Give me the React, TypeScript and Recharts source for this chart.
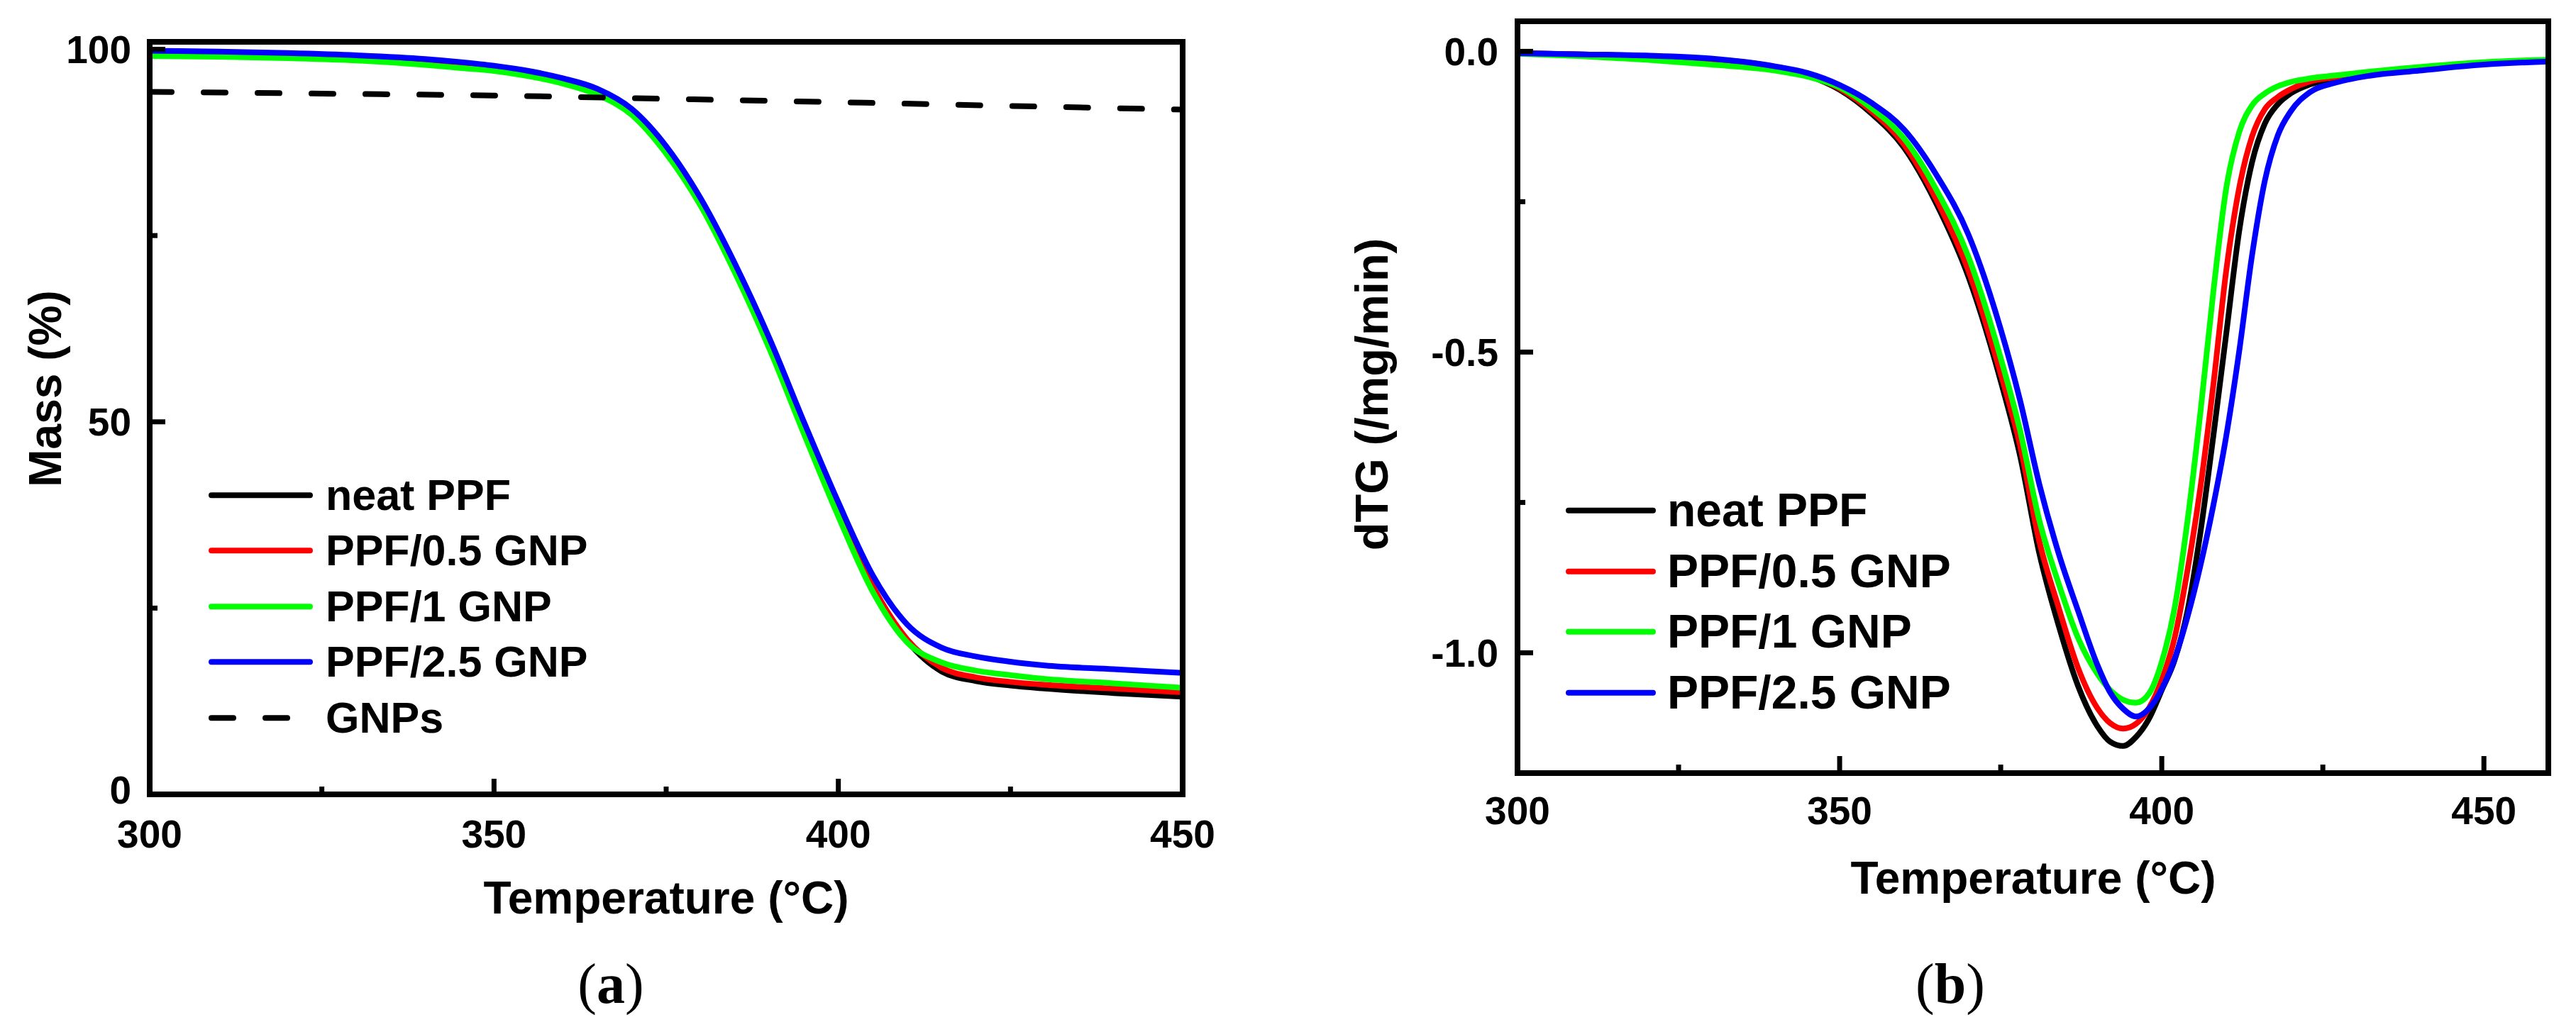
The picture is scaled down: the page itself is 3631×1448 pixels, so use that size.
import React from 'react';
import { LineChart, Line, XAxis, YAxis, Legend } from 'recharts';

const SANS = "'Liberation Sans', Arial, Helvetica, sans-serif";
const SERIF = "'Liberation Serif', 'Times New Roman', Times, serif";

// ---------- (a) TG data ----------
const tgTemperature = [300, 310, 320, 330, 340, 345, 350, 355, 360, 365, 370, 375, 380, 385, 390, 395, 400, 405, 410, 415, 420, 425, 430, 440, 450];
const tgNeat = [99.5, 99.4, 99.2, 98.9, 98.4, 98.0, 97.5, 96.8, 95.8, 94.3, 91.6, 86.4, 79.4, 70.4, 60.2, 48.8, 37.9, 27.9, 20.6, 16.5, 15.2, 14.6, 14.2, 13.6, 13.1];
const tgHalf = [99.6, 99.5, 99.3, 99.0, 98.5, 98.1, 97.6, 96.9, 95.9, 94.4, 91.7, 86.5, 79.5, 70.5, 60.3, 48.9, 37.9, 27.9, 20.8, 17.0, 15.7, 15.1, 14.7, 14.2, 13.7];
const tgOne = [99.1, 99.0, 98.8, 98.5, 97.9, 97.5, 97.1, 96.4, 95.4, 93.9, 91.2, 86.0, 79.0, 70.0, 59.8, 48.4, 37.3, 27.2, 20.4, 17.7, 16.6, 16.0, 15.5, 14.9, 14.3];
const tgTwoHalf = [99.8, 99.7, 99.5, 99.2, 98.7, 98.3, 97.8, 97.1, 96.1, 94.7, 92.0, 87.0, 80.0, 71.2, 61.2, 50.0, 39.2, 29.4, 22.8, 19.7, 18.5, 17.8, 17.3, 16.8, 16.3];
const gnpTemperature = [300, 325, 350, 375, 400, 425, 450];
const gnpMass = [94.3, 94.05, 93.8, 93.35, 92.9, 92.4, 91.9];

const tgXTicks = [300, 325, 350, 375, 400, 425, 450];
const tgXLabels = [300, 350, 400, 450];
const tgYTicks = [0, 25, 50, 75, 100];
const tgYLabels = [0, 50, 100];

// ---------- (b) dTG data ----------
const dtgTemperature = [300, 310, 320, 330, 340, 345, 350, 355, 360, 365, 370, 375, 378, 381, 384, 387, 390, 392, 394, 396, 398, 400, 402, 404, 406, 408, 410, 412, 414, 416, 418, 420, 423, 427, 432, 440, 450, 460];
const dtgNeat = [-0.003, -0.005, -0.008, -0.013, -0.026, -0.040, -0.064, -0.104, -0.160, -0.253, -0.375, -0.548, -0.672, -0.835, -0.955, -1.055, -1.122, -1.148, -1.155, -1.140, -1.110, -1.062, -1.012, -0.930, -0.800, -0.640, -0.470, -0.300, -0.185, -0.120, -0.088, -0.070, -0.055, -0.045, -0.037, -0.028, -0.020, -0.015];
const dtgHalf = [-0.003, -0.005, -0.008, -0.013, -0.026, -0.040, -0.062, -0.100, -0.155, -0.246, -0.365, -0.536, -0.655, -0.815, -0.925, -1.025, -1.092, -1.117, -1.126, -1.118, -1.092, -1.045, -0.975, -0.862, -0.725, -0.555, -0.365, -0.228, -0.142, -0.096, -0.076, -0.063, -0.050, -0.043, -0.036, -0.027, -0.019, -0.015];
const dtgOne = [-0.004, -0.008, -0.014, -0.022, -0.032, -0.042, -0.060, -0.095, -0.145, -0.230, -0.342, -0.510, -0.630, -0.780, -0.885, -0.975, -1.035, -1.062, -1.078, -1.083, -1.068, -1.015, -0.925, -0.780, -0.600, -0.400, -0.228, -0.135, -0.090, -0.070, -0.058, -0.051, -0.045, -0.040, -0.034, -0.026, -0.018, -0.014];
const dtgTwoHalf = [-0.003, -0.005, -0.007, -0.012, -0.025, -0.036, -0.056, -0.086, -0.130, -0.205, -0.305, -0.462, -0.580, -0.720, -0.835, -0.930, -1.020, -1.066, -1.093, -1.106, -1.093, -1.060, -1.010, -0.940, -0.855, -0.755, -0.640, -0.500, -0.340, -0.215, -0.140, -0.100, -0.068, -0.052, -0.041, -0.032, -0.022, -0.017];

const dtgXTicks = [300, 325, 350, 375, 400, 425, 450];
const dtgXLabels = [300, 350, 400, 450];
const dtgYTicks = [-1, -0.75, -0.5, -0.25, 0];
const dtgYLabels = [-1, -0.5, 0];

// ---------- series ----------
const seriesNames = ['neat PPF', 'PPF/0.5 GNP', 'PPF/1 GNP', 'PPF/2.5 GNP', 'GNPs'];
const seriesColors = ['#000000', '#ff0000', '#00ff00', '#0000ff', '#000000'];
const GNP_DASH = '31 45';

const tgRows = tgTemperature.map((t, i) => ({
  t,
  neat: tgNeat[i],
  half: tgHalf[i],
  one: tgOne[i],
  twoHalf: tgTwoHalf[i],
}));
const gnpRows = gnpTemperature.map((t, i) => ({ t, gnp: gnpMass[i] }));
const dtgRows = dtgTemperature.map((t, i) => ({
  t,
  neat: dtgNeat[i],
  half: dtgHalf[i],
  one: dtgOne[i],
  twoHalf: dtgTwoHalf[i],
}));

const AXIS_W = 8;
const TICK_W = 7;

function makeXTick(labels: number[], majorLen: number, minorLen: number, labelCy: number, fs: number) {
  return (props: any) => {
    const { x, y, payload } = props;
    const v = payload.value;
    const major = labels.includes(v);
    return (
      <g>
        <line x1={x} y1={y} x2={x} y2={y - (major ? majorLen : minorLen)} stroke="#000" strokeWidth={TICK_W} />
        {major && (
          <text x={x} y={labelCy} dy="0.358em" textAnchor="middle" fontFamily={SANS} fontWeight="bold" fontSize={fs} fill="#000">
            {String(v)}
          </text>
        )}
      </g>
    );
  };
}

function makeYTick(
  labels: number[],
  majorLen: number,
  minorLen: number,
  labelRight: number,
  fs: number,
  fmt: (v: number) => string,
  bottomShift: number
) {
  return (props: any) => {
    const { x, y, payload, index } = props;
    const v = payload.value;
    const major = labels.some((l) => Math.abs(l - v) < 1e-9);
    const ly = index === 0 ? y - bottomShift : y;
    return (
      <g>
        <line x1={x} y1={y} x2={x + (major ? majorLen : minorLen)} y2={y} stroke="#000" strokeWidth={TICK_W} />
        {major && (
          <text x={labelRight} y={ly} dy="0.358em" textAnchor="end" fontFamily={SANS} fontWeight="bold" fontSize={fs} fill="#000">
            {fmt(v)}
          </text>
        )}
      </g>
    );
  };
}

function makeLegend(sampleW: number, rowH: number, gap: number, fs: number) {
  return (props: any) => {
    const items = [...(props.payload || [])].sort(
      (a: any, b: any) => seriesNames.indexOf(a.value) - seriesNames.indexOf(b.value)
    );
    return (
      <div style={{ display: 'flex', flexDirection: 'column' }}>
        {items.map((it: any) => {
          const dashed = it.value === 'GNPs';
          return (
            <div key={it.value} style={{ height: rowH, display: 'flex', alignItems: 'center' }}>
              <svg width={sampleW} height={rowH} style={{ display: 'block', flex: 'none' }}>
                <line
                  x1={4}
                  x2={sampleW - 4}
                  y1={rowH / 2}
                  y2={rowH / 2}
                  stroke={it.color}
                  strokeWidth={8}
                  strokeLinecap="round"
                  strokeDasharray={dashed ? GNP_DASH : undefined}
                />
              </svg>
              <span
                style={{
                  marginLeft: gap,
                  fontFamily: SANS,
                  fontWeight: 'bold',
                  fontSize: fs,
                  lineHeight: `${rowH}px`,
                  whiteSpace: 'nowrap',
                  color: '#000',
                }}
              >
                {it.value}
              </span>
            </div>
          );
        })}
      </div>
    );
  };
}

const frameLine = { stroke: '#000', strokeWidth: AXIS_W, strokeLinecap: 'square' as const };

function TGChart() {
  return (
    <LineChart width={1720} height={1448} data={tgRows} margin={{ top: 58, right: 52, bottom: 288, left: 0 }}>
      <XAxis
        dataKey="t"
        type="number"
        domain={[300, 450]}
        ticks={tgXTicks}
        interval={0}
        height={40}
        tickSize={0}
        tickMargin={0}
        tickLine={false}
        axisLine={frameLine}
        tick={makeXTick(tgXLabels, 22, 11, 1175, 55)}
      />
      <XAxis xAxisId="top" orientation="top" dataKey="t" type="number" domain={[300, 450]} height={1} tick={false} tickLine={false} axisLine={frameLine} />
      <YAxis
        type="number"
        domain={[0, 101]}
        ticks={tgYTicks}
        interval={0}
        width={211}
        tickSize={0}
        tickMargin={0}
        tickLine={false}
        axisLine={frameLine}
        tick={makeYTick(tgYLabels, 22, 11, 185, 55, (v) => String(v), 7)}
      />
      <YAxis yAxisId="right" orientation="right" type="number" domain={[0, 101]} width={1} tick={false} tickLine={false} axisLine={frameLine} />
      <Legend
        layout="vertical"
        align="center"
        verticalAlign="middle"
        wrapperStyle={{ left: 294, top: 658.75, width: 700, height: 'auto' }}
        content={makeLegend(147, 78.5, 18, 61)}
      />
      <Line type="monotone" dataKey="neat" name={seriesNames[0]} stroke={seriesColors[0]} strokeWidth={8} dot={false} activeDot={false} isAnimationActive={false} />
      <Line type="monotone" dataKey="half" name={seriesNames[1]} stroke={seriesColors[1]} strokeWidth={8} dot={false} activeDot={false} isAnimationActive={false} />
      <Line type="monotone" dataKey="one" name={seriesNames[2]} stroke={seriesColors[2]} strokeWidth={8} dot={false} activeDot={false} isAnimationActive={false} />
      <Line type="monotone" dataKey="twoHalf" name={seriesNames[3]} stroke={seriesColors[3]} strokeWidth={8} dot={false} activeDot={false} isAnimationActive={false} />
      <Line
        data={gnpRows}
        type="monotone"
        dataKey="gnp"
        name={seriesNames[4]}
        stroke={seriesColors[4]}
        strokeWidth={8}
        strokeDasharray={GNP_DASH}
        strokeLinecap="round"
        dot={false}
        activeDot={false}
        isAnimationActive={false}
      />
    </LineChart>
  );
}

function DTGChart() {
  return (
    <LineChart width={1811} height={1448} data={dtgRows} margin={{ top: 29, right: 38, bottom: 318, left: 0 }}>
      <XAxis
        dataKey="t"
        type="number"
        domain={[300, 460]}
        ticks={dtgXTicks}
        interval={0}
        height={40}
        tickSize={0}
        tickMargin={0}
        tickLine={false}
        axisLine={frameLine}
        tick={makeXTick(dtgXLabels, 24, 12, 1142, 55)}
      />
      <XAxis xAxisId="top" orientation="top" dataKey="t" type="number" domain={[300, 460]} height={1} tick={false} tickLine={false} axisLine={frameLine} />
      <YAxis
        type="number"
        domain={[-1.2, 0.05]}
        ticks={dtgYTicks}
        interval={0}
        width={319}
        tickSize={0}
        tickMargin={0}
        tickLine={false}
        axisLine={frameLine}
        tick={makeYTick(dtgYLabels, 22, 11, 2112 - 1820, 55, (v) => v.toFixed(1), 0)}
      />
      <YAxis yAxisId="right" orientation="right" type="number" domain={[-1.2, 0.05]} width={1} tick={false} tickLine={false} axisLine={frameLine} />
      <Legend
        layout="vertical"
        align="center"
        verticalAlign="middle"
        wrapperStyle={{ left: 2207 - 1820, top: 677, width: 700, height: 'auto' }}
        content={makeLegend(127, 85.7, 16, 66)}
      />
      <Line type="monotone" dataKey="neat" name={seriesNames[0]} stroke={seriesColors[0]} strokeWidth={8} dot={false} activeDot={false} isAnimationActive={false} />
      <Line type="monotone" dataKey="half" name={seriesNames[1]} stroke={seriesColors[1]} strokeWidth={8} dot={false} activeDot={false} isAnimationActive={false} />
      <Line type="monotone" dataKey="one" name={seriesNames[2]} stroke={seriesColors[2]} strokeWidth={8} dot={false} activeDot={false} isAnimationActive={false} />
      <Line type="monotone" dataKey="twoHalf" name={seriesNames[3]} stroke={seriesColors[3]} strokeWidth={8} dot={false} activeDot={false} isAnimationActive={false} />
    </LineChart>
  );
}

export default function App() {
  return (
    <div style={{ position: 'absolute', left: 0, top: 0, width: 3631, height: 1448, background: '#fff', overflow: 'hidden' }}>
      <div style={{ position: 'absolute', left: 0, top: 0 }}>
        <TGChart />
      </div>
      <div style={{ position: 'absolute', left: 1820, top: 0 }}>
        <DTGChart />
      </div>
      <svg width={3631} height={1448} style={{ position: 'absolute', left: 0, top: 0, pointerEvents: 'none' }}>
        <g fontFamily={SANS} fontWeight="bold" fill="#000">
          <text transform="translate(86,548) rotate(-90)" textAnchor="middle" fontSize={64}>Mass (%)</text>
          <text x={939} y={1288} textAnchor="middle" fontSize={64}>Temperature (°C)</text>
          <text transform="translate(1956,556) rotate(-90)" textAnchor="middle" fontSize={65}>dTG (/mg/min)</text>
          <text x={2866} y={1260} textAnchor="middle" fontSize={64}>Temperature (°C)</text>
        </g>
        <g fontFamily={SERIF} fill="#000" fontSize={80}>
          <text x={861} y={1414} textAnchor="middle">
            (<tspan fontWeight="bold">a</tspan>)
          </text>
          <text x={2749} y={1414} textAnchor="middle">
            (<tspan fontWeight="bold">b</tspan>)
          </text>
        </g>
      </svg>
    </div>
  );
}
